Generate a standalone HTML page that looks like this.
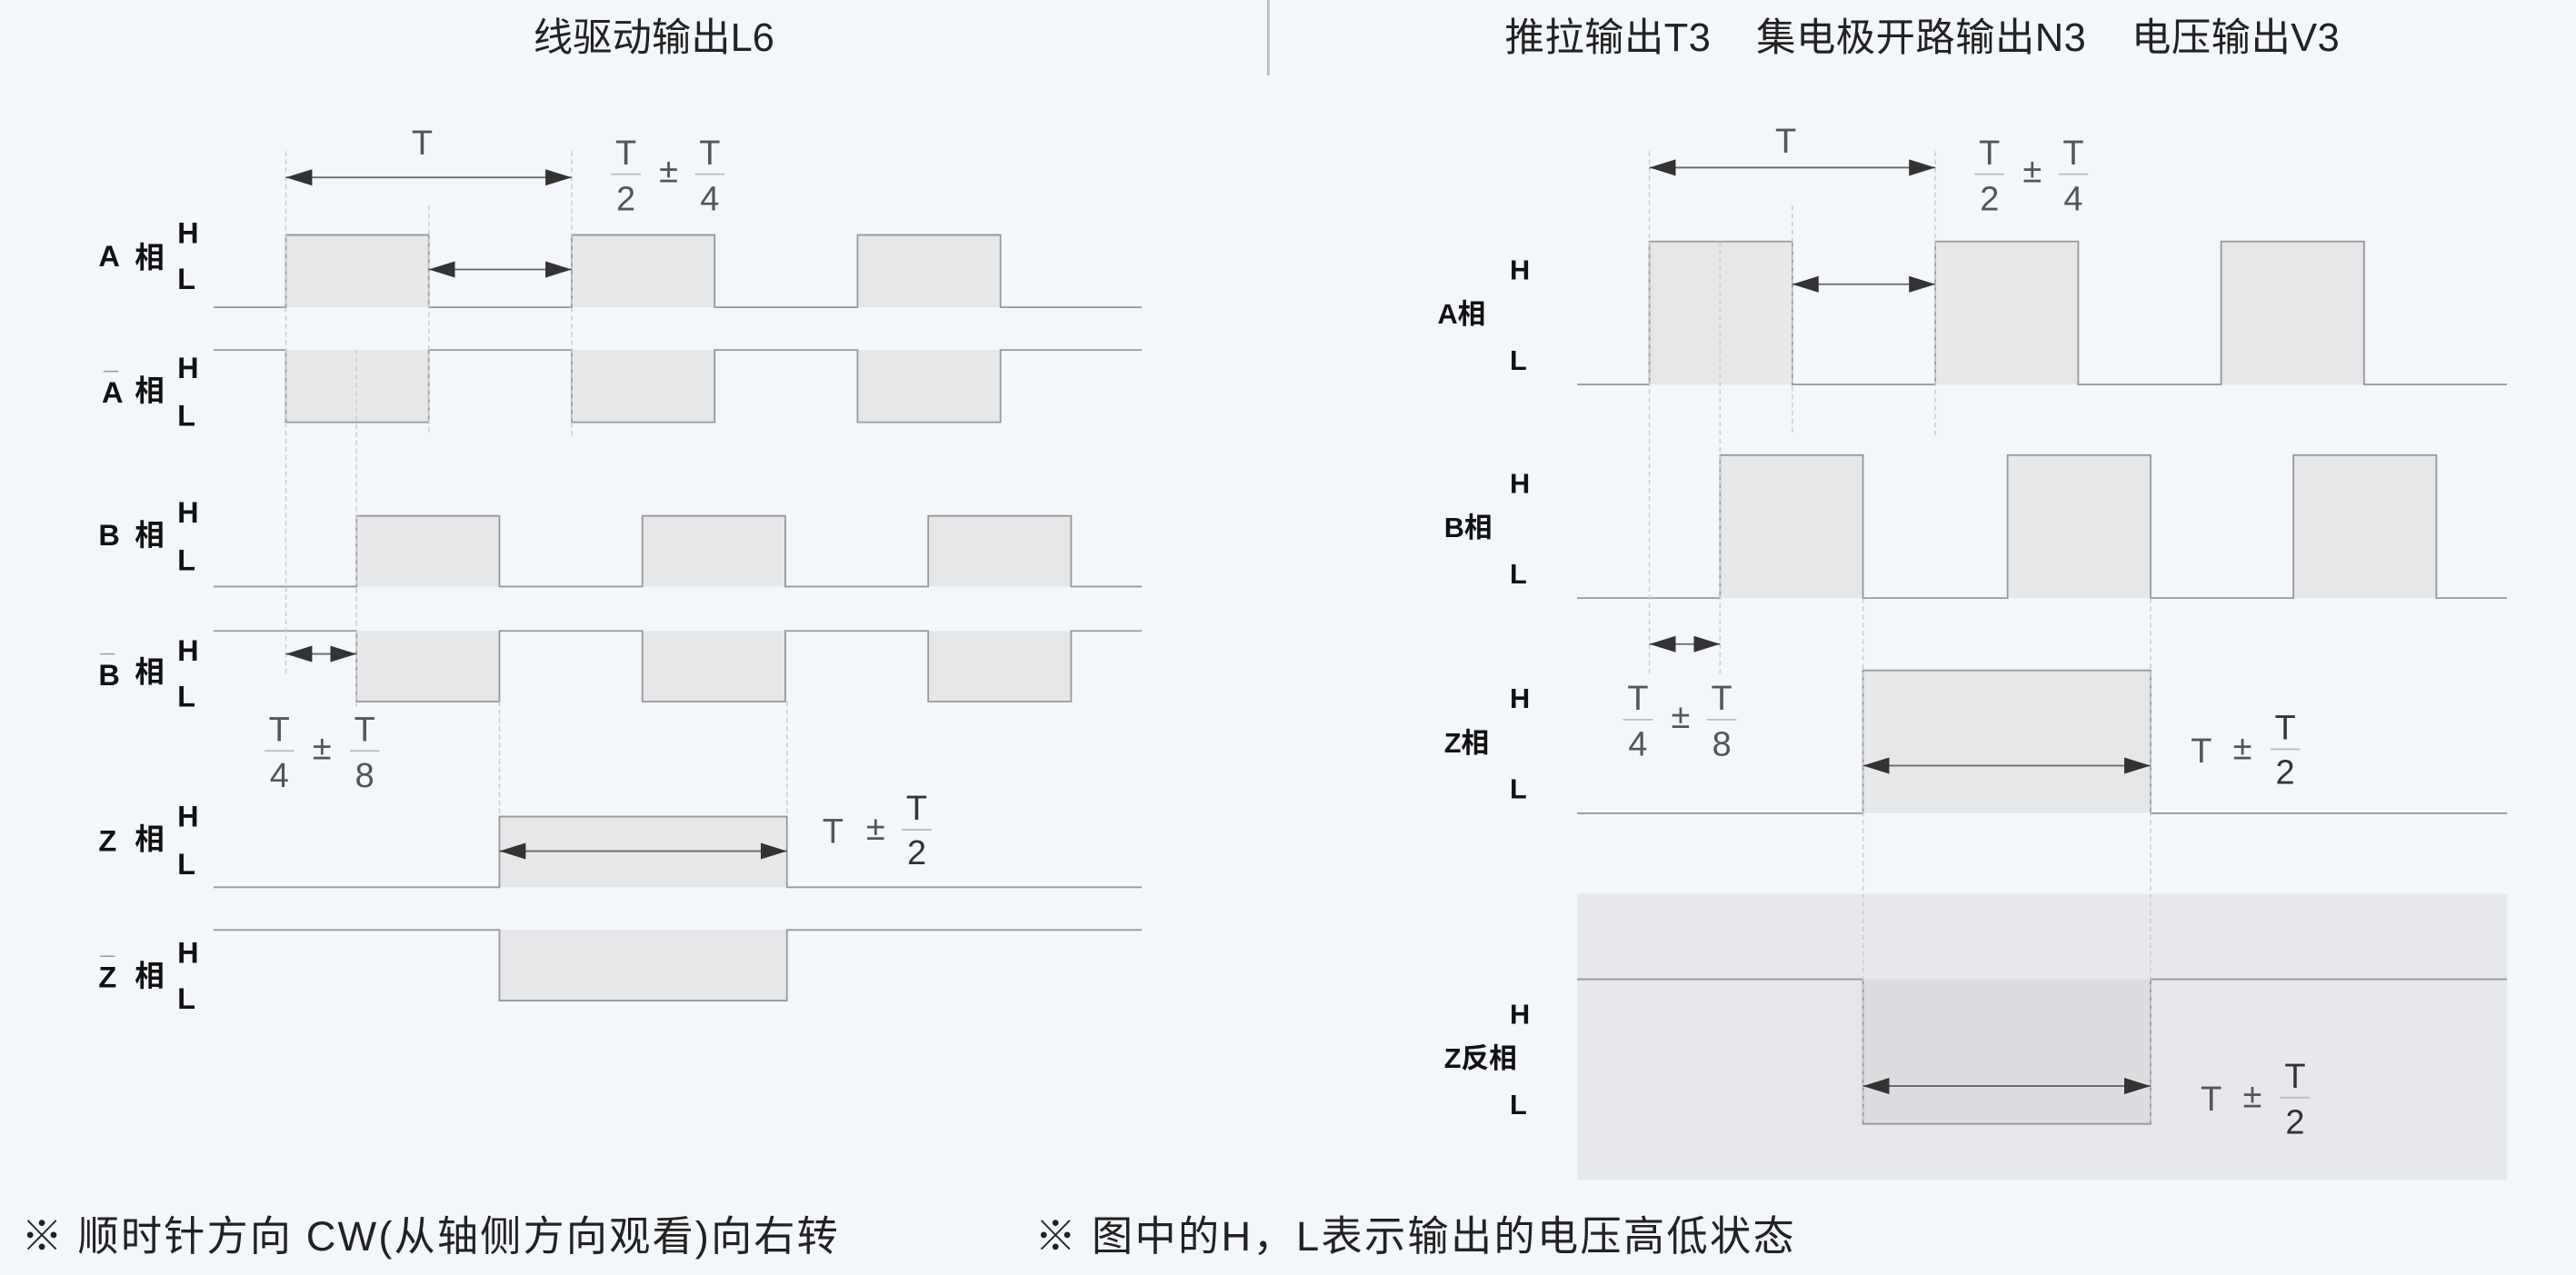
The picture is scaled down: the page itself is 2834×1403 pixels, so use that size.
<!DOCTYPE html>
<html><head><meta charset="utf-8"><style>
html,body{margin:0;padding:0;background:#f3f6fa;}
svg{display:block;}
text{font-family:"Liberation Sans","Noto Sans CJK SC",sans-serif;}
</style></head><body>
<svg width="2834" height="1403" viewBox="0 0 1568 776" preserveAspectRatio="none" xmlns="http://www.w3.org/2000/svg">
<defs>
<marker id="ah" viewBox="0 0 10 10" refX="10" refY="5" markerWidth="16" markerHeight="10" markerUnits="userSpaceOnUse" orient="auto-start-reverse" preserveAspectRatio="none"><path d="M0,0 L10,5 L0,10 Z" fill="#333"/></marker>
</defs>
<rect width="1568" height="776" fill="#f3f6fa"/>
<line x1="772" y1="0" x2="772" y2="46" stroke="#bbb" stroke-width="1.5"/>
<text x="398" y="31" font-size="24" text-anchor="middle" fill="#222">线驱动输出L6</text>
<text x="1170" y="31" font-size="24" text-anchor="middle" fill="#222" xml:space="preserve" textLength="508">推拉输出T3    集电极开路输出N3    电压输出V3</text>

<!-- LEFT PANEL -->
<g fill="#e6e7e9" stroke="#999" stroke-width="1">
<rect x="174" y="143" width="87" height="44" stroke="none"/><rect x="348" y="143" width="87" height="44" stroke="none"/><rect x="522" y="143" width="87" height="44" stroke="none"/>
<path d="M130,187 H174 V143 H261 V187 H348 V143 H435 V187 H522 V143 H609 V187 H695" fill="none"/>
<rect x="174" y="213" width="87" height="44" stroke="none"/><rect x="348" y="213" width="87" height="44" stroke="none"/><rect x="522" y="213" width="87" height="44" stroke="none"/>
<path d="M130,213 H174 V257 H261 V213 H348 V257 H435 V213 H522 V257 H609 V213 H695" fill="none"/>
<rect x="217" y="314" width="87" height="43" stroke="none"/><rect x="391" y="314" width="87" height="43" stroke="none"/><rect x="565" y="314" width="87" height="43" stroke="none"/>
<path d="M130,357 H217 V314 H304 V357 H391 V314 H478 V357 H565 V314 H652 V357 H695" fill="none"/>
<rect x="217" y="384" width="87" height="43" stroke="none"/><rect x="391" y="384" width="87" height="43" stroke="none"/><rect x="565" y="384" width="87" height="43" stroke="none"/>
<path d="M130,384 H217 V427 H304 V384 H391 V427 H478 V384 H565 V427 H652 V384 H695" fill="none"/>
<rect x="304" y="497" width="175" height="43" stroke="none"/>
<path d="M130,540 H304 V497 H479 V540 H695" fill="none"/>
<rect x="304" y="566" width="175" height="43" stroke="none"/>
<path d="M130,566 H304 V609 H479 V566 H695" fill="none"/>
</g>
<g stroke="#ccc" stroke-width="0.8" stroke-dasharray="3,2">
<line x1="174" y1="92" x2="174" y2="410"/>
<line x1="217" y1="213" x2="217" y2="430"/>
<line x1="261" y1="125" x2="261" y2="265"/>
<line x1="348" y1="92" x2="348" y2="265"/>
<line x1="304" y1="427" x2="304" y2="497"/>
<line x1="479" y1="427" x2="479" y2="497"/>
</g>
<g stroke="#666" stroke-width="1" marker-start="url(#ah)" marker-end="url(#ah)">
<line x1="174" y1="108" x2="348" y2="108"/>
<line x1="261" y1="164" x2="348" y2="164"/>
<line x1="174" y1="398" x2="217" y2="398"/>
<line x1="304" y1="518" x2="479" y2="518"/>
</g>
<g font-size="21" fill="#555" text-anchor="middle">
<text x="257" y="94">T</text>
<text x="381" y="100">T</text><line x1="372" y1="106" x2="390" y2="106" stroke="#bbb"/><text x="381" y="128">2</text>
<text x="407" y="111">±</text>
<text x="432" y="100">T</text><line x1="423" y1="106" x2="441" y2="106" stroke="#bbb"/><text x="432" y="128">4</text>
<text x="170" y="451">T</text><line x1="161" y1="457" x2="179" y2="457" stroke="#bbb"/><text x="170" y="479">4</text>
<text x="196" y="462">±</text>
<text x="222" y="451">T</text><line x1="213" y1="457" x2="231" y2="457" stroke="#bbb"/><text x="222" y="479">8</text>
<text x="507" y="513">T</text>
<text x="533" y="511">±</text>
<text x="558" y="499" fill="#333">T</text><line x1="549" y1="505" x2="567" y2="505" stroke="#bbb"/><text x="558" y="526" fill="#333">2</text>
</g>
<g font-size="18" fill="#111" font-weight="bold">
<text x="60" y="162">A</text><text x="82" y="163">相</text><text x="108" y="148">H</text><text x="108" y="176">L</text>
<text x="62" y="245">A</text><line x1="63" y1="226" x2="72" y2="226" stroke="#999" stroke-width="0.8"/><text x="82" y="244">相</text><text x="108" y="230">H</text><text x="108" y="259">L</text>
<text x="60" y="332">B</text><text x="82" y="332">相</text><text x="108" y="318">H</text><text x="108" y="347">L</text>
<text x="60" y="417">B</text><line x1="61" y1="398" x2="70" y2="398" stroke="#999" stroke-width="0.8"/><text x="82" y="415">相</text><text x="108" y="402">H</text><text x="108" y="430">L</text>
<text x="60" y="518">Z</text><text x="82" y="517">相</text><text x="108" y="503">H</text><text x="108" y="532">L</text>
<text x="60" y="601">Z</text><line x1="61" y1="582" x2="70" y2="582" stroke="#999" stroke-width="0.8"/><text x="82" y="600">相</text><text x="108" y="586">H</text><text x="108" y="614">L</text>
</g>

<!-- RIGHT PANEL -->
<rect x="960" y="544" width="566" height="174" fill="#e6e8ec"/>
<g fill="#e6e7e9" stroke="none">
<rect x="1004" y="147" width="87" height="87"/><rect x="1178" y="147" width="87" height="87"/><rect x="1352" y="147" width="87" height="87"/>
<rect x="1047" y="277" width="87" height="87"/><rect x="1222" y="277" width="87" height="87"/><rect x="1396" y="277" width="87" height="87"/>
<rect x="1134" y="408" width="175" height="87"/>
<rect x="1134" y="596" width="175" height="88" fill="#dcdde0"/>
</g>
<g fill="none" stroke="#999" stroke-width="1">
<path d="M960,234 H1004 V147 H1091 V234 H1178 V147 H1265 V234 H1352 V147 H1439 V234 H1526"/>
<path d="M960,364 H1047 V277 H1134 V364 H1222 V277 H1309 V364 H1396 V277 H1483 V364 H1526"/>
<path d="M960,495 H1134 V408 H1309 V495 H1526"/>
<path d="M960,596 H1134 V684 H1309 V596 H1526"/>
</g>
<g stroke="#ccc" stroke-width="0.8" stroke-dasharray="3,2">
<line x1="1004" y1="92" x2="1004" y2="410"/>
<line x1="1047" y1="147" x2="1047" y2="410"/>
<line x1="1091" y1="125" x2="1091" y2="265"/>
<line x1="1178" y1="92" x2="1178" y2="265"/>
<line x1="1134" y1="364" x2="1134" y2="684"/>
<line x1="1309" y1="364" x2="1309" y2="684"/>
</g>
<g stroke="#666" stroke-width="1" marker-start="url(#ah)" marker-end="url(#ah)">
<line x1="1004" y1="102" x2="1178" y2="102"/>
<line x1="1091" y1="173" x2="1178" y2="173"/>
<line x1="1004" y1="392" x2="1047" y2="392"/>
<line x1="1134" y1="466" x2="1309" y2="466"/>
<line x1="1134" y1="661" x2="1309" y2="661"/>
</g>
<g font-size="21" fill="#555" text-anchor="middle">
<text x="1087" y="93">T</text>
<text x="1211" y="100">T</text><line x1="1202" y1="106" x2="1220" y2="106" stroke="#bbb"/><text x="1211" y="128">2</text>
<text x="1237" y="111">±</text>
<text x="1262" y="100">T</text><line x1="1253" y1="106" x2="1271" y2="106" stroke="#bbb"/><text x="1262" y="128">4</text>
<text x="997" y="432">T</text><line x1="988" y1="438" x2="1006" y2="438" stroke="#bbb"/><text x="997" y="460">4</text>
<text x="1023" y="443">±</text>
<text x="1048" y="432">T</text><line x1="1039" y1="438" x2="1057" y2="438" stroke="#bbb"/><text x="1048" y="460">8</text>
<text x="1340" y="464">T</text>
<text x="1365" y="462">±</text>
<text x="1391" y="450" fill="#333">T</text><line x1="1382" y1="456" x2="1400" y2="456" stroke="#bbb"/><text x="1391" y="477" fill="#333">2</text>
<text x="1346" y="676">T</text>
<text x="1371" y="674">±</text>
<text x="1397" y="662" fill="#333">T</text><line x1="1388" y1="668" x2="1406" y2="668" stroke="#bbb"/><text x="1397" y="690" fill="#333">2</text>
</g>
<g font-size="17" fill="#111" font-weight="bold">
<text x="875" y="197">A相</text><text x="919" y="170">H</text><text x="919" y="225">L</text>
<text x="879" y="327">B相</text><text x="919" y="300">H</text><text x="919" y="355">L</text>
<text x="879" y="458">Z相</text><text x="919" y="431">H</text><text x="919" y="486">L</text>
<text x="879" y="650">Z反相</text><text x="919" y="623">H</text><text x="919" y="678">L</text>
</g>

<g font-size="25" fill="#222">
<text x="13" y="761" textLength="497">※ 顺时针方向 CW(从轴侧方向观看)向右转</text>
<text x="630" y="761" textLength="462">※ 图中的H，L表示输出的电压高低状态</text>
</g>
</svg>
</body></html>
